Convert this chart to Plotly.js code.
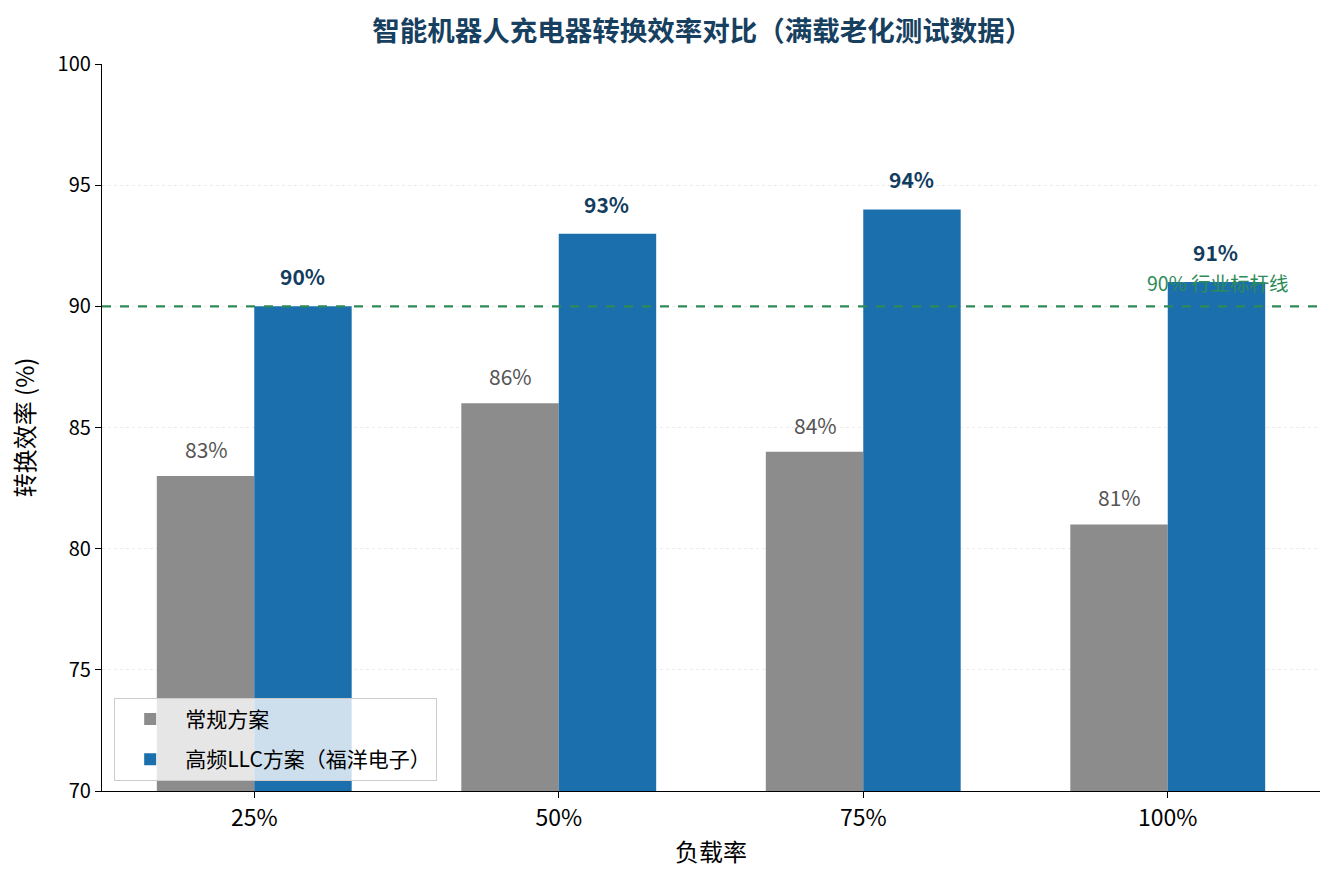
<!DOCTYPE html>
<html>
<head>
<meta charset="utf-8">
<script src="https://cdn.plot.ly/plotly-3.0.1.min.js"></script>
<style>
  body { margin: 0; background: #fff; }
  #chart { width: 1335px; height: 885px; }
</style>
</head>
<body>
<div id="chart"></div>
<script>
var loads = ['25%', '50%', '75%', '100%'];
var conventional = [83, 86, 84, 81];
var llc = [90, 93, 94, 91];
var benchmark = 90;

var font = '"Noto Sans CJK SC", "Noto Sans", sans-serif';

var trace1 = {
  x: loads,
  y: conventional,
  name: '常规方案',
  type: 'bar',
  legendgroup: 'conv',
  marker: { color: '#8c8c8c' },
  hoverinfo: 'x+y'
};

var trace2 = {
  x: loads,
  y: llc,
  name: '高频LLC方案（福洋电子）',
  type: 'bar',
  legendgroup: 'llc',
  marker: { color: '#1c6fad' },
  hoverinfo: 'x+y'
};

// value labels above bars
var labels = [];
loads.forEach(function (c, i) {
  labels.push({
    x: c, y: conventional[i], xref: 'x', yref: 'y',
    text: conventional[i] + '%', showarrow: false,
    xshift: -48, yshift: 27,
    font: { family: font, size: 21, color: '#555555' }
  });
  labels.push({
    x: c, y: llc[i], xref: 'x', yref: 'y',
    text: '<b>' + llc[i] + '%</b>', showarrow: false,
    xshift: 48, yshift: 30,
    font: { family: font, size: 21, color: '#123d5f' }
  });
});

labels.push({
  x: 3.5, y: benchmark, xref: 'x', yref: 'y',
  text: benchmark + '% 行业标杆线', showarrow: false,
  xanchor: 'right', xshift: -30, yshift: 24,
  font: { family: font, size: 19.5, color: '#2e8b57' }
});

var layout = {
  width: 1335,
  height: 885,
  margin: { l: 102, r: 15, t: 64, b: 94 },
  paper_bgcolor: '#ffffff',
  plot_bgcolor: '#ffffff',
  font: { family: font, color: '#000000' },
  barmode: 'group',
  bargap: 0.36,
  bargroupgap: 0,
  title: {
    text: '<b>智能机器人充电器转换效率对比（满载老化测试数据）</b>',
    x: 0.526, xanchor: 'center', y: 0.965, yanchor: 'middle',
    font: { family: font, size: 27.5, color: '#173f5f' }
  },
  xaxis: {
    type: 'category',
    range: [-0.5, 3.5],
    showline: true, linecolor: '#000000', linewidth: 1.2,
    ticks: 'outside', ticklen: 6, tickcolor: '#000000',
    tickfont: { family: font, size: 23, color: '#000000' },
    showgrid: false,
    title: { text: '负载率', font: { family: font, size: 24 }, standoff: 12 }
  },
  yaxis: {
    range: [70, 100],
    tickvals: [70, 75, 80, 85, 90, 95, 100],
    showline: true, linecolor: '#000000', linewidth: 1.2,
    ticks: 'outside', ticklen: 6, tickcolor: '#000000',
    tickfont: { family: font, size: 20, color: '#000000' },
    showgrid: true, gridcolor: '#ebebeb', griddash: 'dot', gridwidth: 1,
    zeroline: false,
    title: { text: '转换效率 (%)', font: { family: font, size: 24 }, standoff: 16 }
  },
  shapes: [{
    type: 'line', xref: 'paper', yref: 'y',
    x0: 0, x1: 1, y0: benchmark, y1: benchmark,
    line: { color: '#2e8b57', width: 2.2, dash: 'dash' }
  }],
  annotations: labels,
  showlegend: true,
  legend: {
    x: 0.01, y: 0.014, xanchor: 'left', yanchor: 'bottom',
    bgcolor: 'rgba(255,255,255,0.78)',
    bordercolor: '#cccccc', borderwidth: 1,
    font: { family: font, size: 21, color: '#000000' },
    traceorder: 'grouped',
    itemwidth: 60,
    tracegroupgap: 10
  }
};

Plotly.newPlot('chart', [trace1, trace2], layout, { displayModeBar: false, responsive: false });
</script>
</body>
</html>
